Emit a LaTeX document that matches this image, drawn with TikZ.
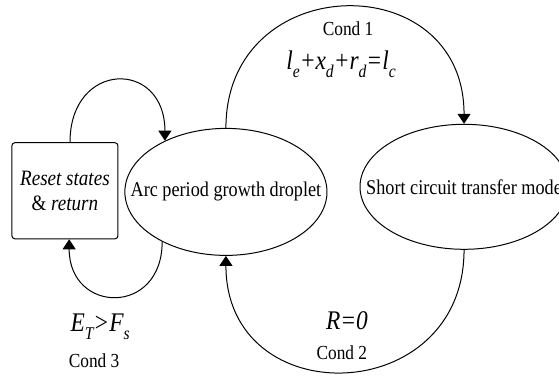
\documentclass[tikz,border=0pt]{standalone}
\usepackage{fontspec}
\setmainfont{Liberation Serif}[FakeStretch=0.87]
\usetikzlibrary{arrows.meta, shapes.geometric}
\newcommand{\lowsub}[1]{\raisebox{-0.3em}{\fontsize{18}{18}\selectfont #1}}

\begin{document}
\begin{tikzpicture}[
  phase/.style={ellipse, draw, line width=1pt, inner sep=0pt},
  resetbox/.style={draw, line width=1pt, rounded corners=3pt, minimum width=3.74cm, minimum height=3.39cm, align=center, font=\fontsize{22}{25}\selectfont},
  body/.style={font=\fontsize{21}{24}\selectfont},
  cond/.style={font=\fontsize{20}{24}\selectfont},
  eqn/.style={font=\fontsize{27}{30}\selectfont\itshape},
  flow/.style={line width=1pt, -{Triangle[length=10bp,width=13bp]}}
]
  \useasboundingbox (0,0) rectangle (19.72,13.26);

  % States
  \node[resetbox] (reset) at (2.29,6.53) {\textit{Reset states}\\\& \textit{return}};
  \node[phase, minimum width=7.13cm, minimum height=4.48cm] (arc) at (7.97,6.49) {};
  \node[body] (arctext) at (arc) {Arc period growth droplet};
  \node[phase, minimum width=7.34cm, minimum height=4.41cm] (short) at (16.37,6.67) {};
  \node[body] (shorttext) at (short) {Short circuit transfer mode};

  % Transitions
  \draw[flow] (reset.84) to[out=90, in=90, looseness=2.2] (arc.140);
  \draw[flow] (arc.218) to[out=-90, in=-90, looseness=2.05] (reset.-85);
  \draw[flow] (arc.north) to[out=90, in=90, looseness=1.7] (short.north);
  \draw[flow] (short.south) to[out=-90, in=-90, looseness=1.7] (arc.south);

  % Conditions
  \node[cond] (c1) at (12.28,12.24) {Cond 1};
  \node[eqn] (c1eq) at (12.03,11.0) {l\lowsub{e}+x\lowsub{d}+r\lowsub{d}=l\lowsub{c}};
  \node[eqn] (c2eq) at (12.24,1.94) {R=0};
  \node[cond] (c2) at (12.06,0.81) {Cond 2};
  \node[eqn] (c3eq) at (3.53,1.73) {E\lowsub{T}>F\lowsub{s}};
  \node[cond] (c3) at (3.32,0.53) {Cond 3};
\end{tikzpicture}
\end{document}
